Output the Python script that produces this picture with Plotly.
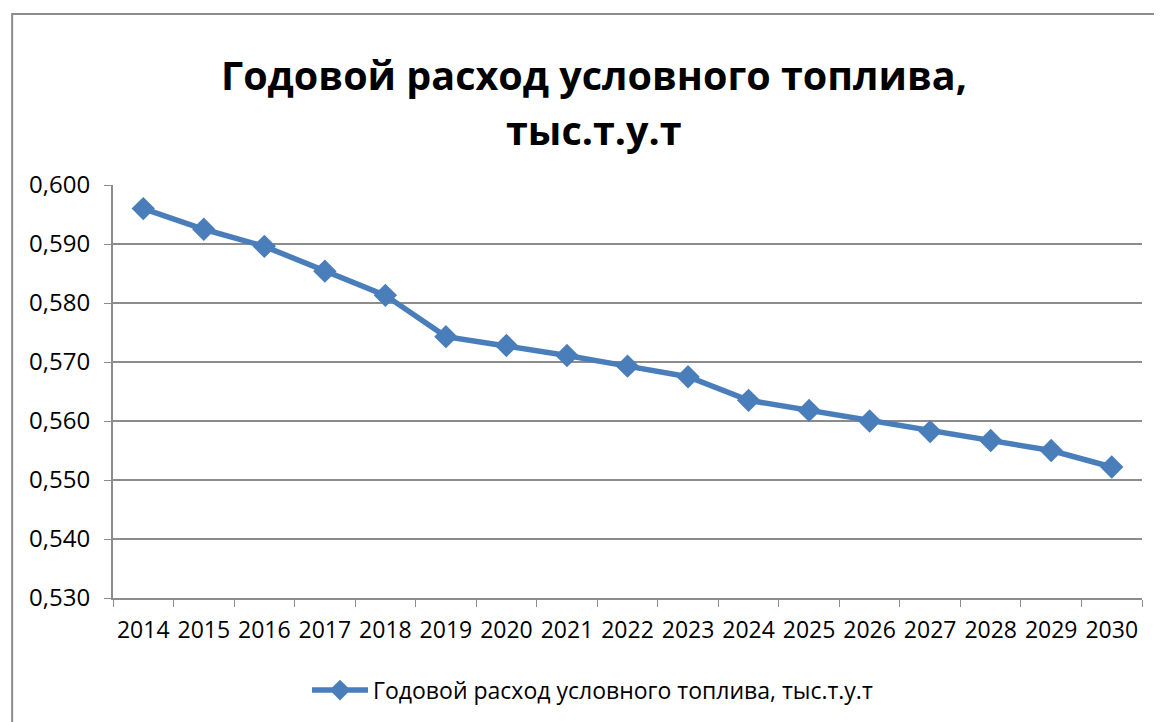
import plotly.graph_objects as go

years = ["2014", "2015", "2016", "2017", "2018", "2019", "2020", "2021", "2022",
         "2023", "2024", "2025", "2026", "2027", "2028", "2029", "2030"]
values = [0.5960, 0.5925, 0.5896, 0.5854, 0.5813, 0.5743, 0.5728, 0.5711, 0.5693,
          0.5675, 0.5635, 0.5618, 0.5600, 0.5582, 0.5567, 0.5550, 0.5522]
series_name = "Годовой расход условного топлива, тыс.т.у.т"
title_lines = ["Годовой расход условного топлива,", "тыс.т.у.т"]
y_ticks = [0.53, 0.54, 0.55, 0.56, 0.57, 0.58, 0.59, 0.60]

FONT = "Open Sans"
BLUE = "#4A7EBB"
GRID = "#8C8C8C"

fig = go.Figure()
fig.add_trace(go.Scatter(
    x=years, y=values, name=series_name, mode="lines+markers",
    line=dict(color=BLUE, width=5.5),
    marker=dict(symbol="diamond", size=18, color=BLUE),
))

fig.update_layout(
    width=1154, height=714,
    margin=dict(l=105, r=20, t=177, b=124, autoexpand=False),
    paper_bgcolor="white", plot_bgcolor="white",
    separators=", ",
    font=dict(family=FONT, color="black", size=22),
    showlegend=True,
    legend=dict(orientation="h", x=0.466, xanchor="center", y=-0.223, yanchor="middle",
                font=dict(family=FONT, size=23), itemwidth=56),
    xaxis=dict(type="category", tickson="boundaries", ticks="outside", ticklen=7,
               tickcolor=GRID, showline=True, linecolor=GRID, linewidth=2,
               showgrid=False, tickfont=dict(size=23), tickangle=0,
               range=[-0.5, 16.5], automargin=False, ticklabelstandoff=10),
    yaxis=dict(range=[0.53, 0.60], tickvals=y_ticks, tickformat=".3f",
               ticks="outside", ticklen=7, tickcolor=GRID, showline=True,
               linecolor=GRID, linewidth=2, showgrid=True, gridcolor=GRID,
               gridwidth=1.5, tickfont=dict(size=24), zeroline=False,
               ticklabelstandoff=9, automargin=False),
)

for line_text, ypos in zip(title_lines, [1.266, 1.133]):
    fig.add_annotation(
        text="<b>" + line_text + "</b>", xref="paper", yref="paper",
        x=0.467, y=ypos, xanchor="center", yanchor="middle", showarrow=False,
        font=dict(family=FONT, size=39.5, color="black"),
    )

fig.add_shape(type="rect", xref="paper", yref="paper",
              x0=-0.098, y0=-0.35, x1=1.05, y1=1.414,
              line=dict(color="#8C8C8C", width=2), layer="below")

fig.write_html("out.html")
